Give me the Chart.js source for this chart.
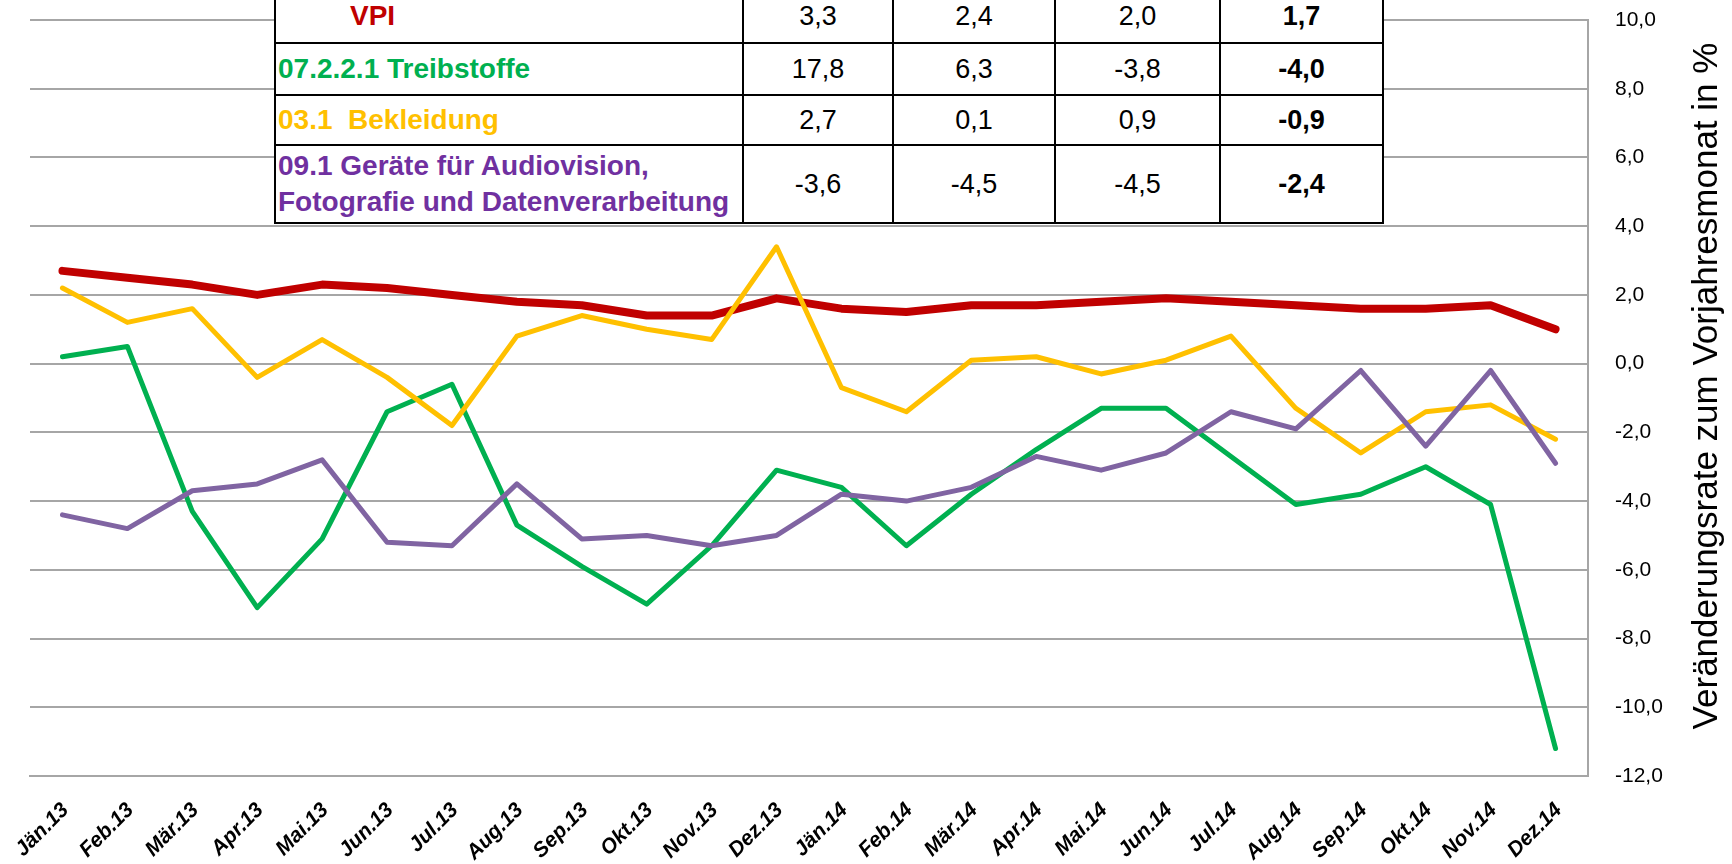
<!DOCTYPE html>
<html>
<head>
<meta charset="utf-8">
<script src="https://cdn.jsdelivr.net/npm/chart.js@4/dist/chart.umd.min.js"></script>
<style>
  html, body { margin: 0; padding: 0; background: #fff; overflow: hidden; }
  #wrap { position: relative; width: 1732px; height: 864px; overflow: hidden; }
  #my_graph { position: absolute; left: 0; top: 0; }
  #summary {
    position: absolute; left: 274px; top: -12px;
    border-collapse: collapse; table-layout: fixed; background: #fff;
    font-family: 'Liberation Sans', Arial, sans-serif; font-size: 27px; color: #000;
  }
  #summary td { border: 2px solid #000; padding: 0; text-align: center; vertical-align: middle; }
  #summary td.lbl { text-align: left; font-weight: bold; font-size: 28px; padding-left: 2px; line-height: 36px; white-space: nowrap; }
  #summary td.last { font-weight: bold; }
</style>
</head>
<body>
<div id="wrap">
  <canvas id="my_graph" width="1732" height="864"></canvas>
  <table id="summary"></table>
</div>
<script>
const months = ['Jän.13', 'Feb.13', 'Mär.13', 'Apr.13', 'Mai.13', 'Jun.13', 'Jul.13', 'Aug.13',
  'Sep.13', 'Okt.13', 'Nov.13', 'Dez.13', 'Jän.14', 'Feb.14', 'Mär.14', 'Apr.14', 'Mai.14',
  'Jun.14', 'Jul.14', 'Aug.14', 'Sep.14', 'Okt.14', 'Nov.14', 'Dez.14'];

const vpi = [2.7, 2.5, 2.3, 2.0, 2.3, 2.2, 2.0, 1.8, 1.7, 1.4, 1.4, 1.9,
  1.6, 1.5, 1.7, 1.7, 1.8, 1.9, 1.8, 1.7, 1.6, 1.6, 1.7, 1.0];
const treibstoffe = [0.2, 0.5, -4.3, -7.1, -5.1, -1.4, -0.6, -4.7, -5.9, -7.0, -5.3, -3.1,
  -3.6, -5.3, -3.8, -2.5, -1.3, -1.3, -2.7, -4.1, -3.8, -3.0, -4.1, -11.2];
const bekleidung = [2.2, 1.2, 1.6, -0.4, 0.7, -0.4, -1.8, 0.8, 1.4, 1.0, 0.7, 3.4,
  -0.7, -1.4, 0.1, 0.2, -0.3, 0.1, 0.8, -1.3, -2.6, -1.4, -1.2, -2.2];
const audiovision = [-4.4, -4.8, -3.7, -3.5, -2.8, -5.2, -5.3, -3.5, -5.1, -5.0, -5.3, -5.0,
  -3.8, -4.0, -3.6, -2.7, -3.1, -2.6, -1.4, -1.9, -0.2, -2.4, -0.2, -2.9];

const yMin = -12;
const yMax = 10;
const yStep = 2;
const yTitle = 'Veränderungsrate zum Vorjahresmonat in %';

const tableLabels = ['VPI', '07.2.2.1 Treibstoffe', '03.1\u00a0 Bekleidung',
  '09.1 Geräte für Audiovision,<br>Fotografie und Datenverarbeitung'];
const tableValues = [
  ['3,3', '2,4', '2,0', '1,7'],
  ['17,8', '6,3', '-3,8', '-4,0'],
  ['2,7', '0,1', '0,9', '-0,9'],
  ['-3,6', '-4,5', '-4,5', '-2,4']
];
const labelColors = ['#c00000', '#00b050', '#ffc000', '#7030a0'];

// table over the top of the plot
const rowHeights = [54, 52, 50, 78];
const colWidths = [468, 150, 162, 165, 163];
const table = document.getElementById('summary');
let html = '<colgroup>' + colWidths.map(w => `<col style="width:${w}px">`).join('') + '</colgroup>';
for (let i = 0; i < tableLabels.length; i++) {
  const pad = i === 0 ? 'padding-left:74px;' : '';
  html += `<tr style="height:${rowHeights[i]}px">`;
  html += `<td class="lbl" style="color:${labelColors[i]};${pad}">${tableLabels[i]}</td>`;
  tableValues[i].forEach((v, j) => {
    html += `<td${j === 3 ? ' class="last"' : ''}>${v}</td>`;
  });
  html += '</tr>';
}
table.innerHTML = html;

const axisTitle = {
  id: 'axisTitle',
  afterDraw(chart) {
    const ctx = chart.ctx;
    const area = chart.chartArea;
    ctx.save();
    ctx.translate(chart.scales.y.right - 25, (area.top + area.bottom) / 2 - 12);
    ctx.rotate(-Math.PI / 2);
    ctx.font = '35px "Liberation Sans", Arial, sans-serif';
    ctx.textAlign = 'center';
    ctx.textBaseline = 'middle';
    ctx.fillStyle = '#000';
    ctx.fillText(yTitle, 0, 0);
    ctx.restore();
  }
};

const ctx = document.getElementById('my_graph');
const gridColor = '#a6a6a6';

new Chart(ctx, {
  type: 'line',
  data: {
    labels: months,
    datasets: [
      { label: 'VPI', data: vpi, borderColor: '#c00000', borderWidth: 8, order: 3 },
      { label: '07.2.2.1 Treibstoffe', data: treibstoffe, borderColor: '#00b050', borderWidth: 5, order: 2 },
      { label: '03.1 Bekleidung', data: bekleidung, borderColor: '#ffc000', borderWidth: 5, order: 1 },
      { label: '09.1 Geräte für Audiovision, Fotografie und Datenverarbeitung', data: audiovision, borderColor: '#8064a2', borderWidth: 5, order: 0 }
    ]
  },
  options: {
    responsive: false,
    animation: false,
    layout: { padding: { left: 30, top: 20, right: 0, bottom: 0 } },
    elements: {
      point: { radius: 0, hoverRadius: 0 },
      line: { tension: 0, borderCapStyle: 'round', borderJoinStyle: 'round' }
    },
    scales: {
      x: {
        offset: true,
        grid: { display: false },
        border: { color: gridColor, width: 2 },
        ticks: {
          autoSkip: false,
          minRotation: 45,
          maxRotation: 45,
          padding: 14,
          labelOffset: 3,
          color: '#000',
          font: { family: 'Liberation Sans', size: 21, weight: 'bold', style: 'italic' }
        },
        afterFit: scale => {
          scale.height = 88;
          scale.paddingLeft = 0;
          scale.paddingRight = 0;
        }
      },
      y: {
        position: 'right',
        min: yMin,
        max: yMax,
        ticks: {
          stepSize: yStep,
          padding: 0,
          color: '#000',
          font: { family: 'Liberation Sans', size: 21 },
          callback: v => v.toFixed(1).replace('.', ',')
        },
        grid: { color: gridColor, lineWidth: 2, drawTicks: true, tickLength: 27, tickColor: 'transparent' },
        border: { color: gridColor, width: 2 },
        afterFit: scale => { scale.width = 144; }
      }
    },
    plugins: {
      legend: { display: false },
      tooltip: { enabled: false }
    }
  },
  plugins: [axisTitle]
});
</script>
</body>
</html>
